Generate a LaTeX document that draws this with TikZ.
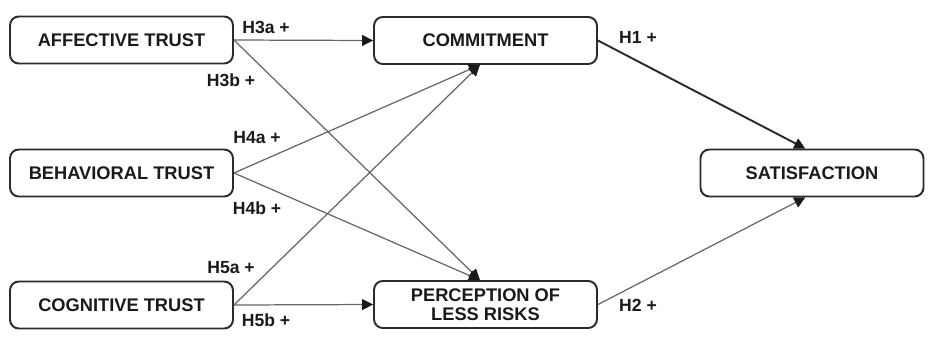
\documentclass[tikz,border=0pt]{standalone}
\usepackage{fontspec}
\setmainfont{Liberation Sans}
\usepackage{xcolor}
\definecolor{cLine}{HTML}{666666}
\definecolor{cBox}{HTML}{2B2B2B}
\definecolor{cText}{HTML}{1A1A1A}
\usetikzlibrary{positioning,arrows.meta,calc}
\tikzset{
  node-box/.style={draw=cBox,line width=1.1pt,rounded corners=5pt,
    minimum height=9.4mm,minimum width=44.6mm,align=center,
    font=\fontsize{10.4}{10.6}\selectfont\bfseries,text=cText,inner sep=1pt},
  arrow/.style={-{Triangle[length=2.2mm,width=2.2mm,color=cText]},line width=0.7pt,draw=cLine},
  arrow-main/.style={-{Triangle[length=2.2mm,width=2.2mm,color=cText]},line width=1.1pt,draw=cBox},
  hyp/.style={font=\fontsize{10}{10}\selectfont\bfseries,text=cText,inner sep=0pt},
}
\begin{document}
\begin{tikzpicture}[x=0.02cm,y=-0.02cm]
  \useasboundingbox (0,0) rectangle (929,336);
  % sources
  \node[node-box] (aff) at (121.5,40) {AFFECTIVE TRUST};
  \node[node-box] (beh) at (121.5,173) {BEHAVIORAL TRUST};
  \node[node-box] (cog) at (121.5,305) {COGNITIVE TRUST};
  % mediators
  \node[node-box] (com) at (485.5,40.5) {COMMITMENT};
  \node[node-box] (per) at (485.5,304.5) {PERCEPTION OF\\LESS RISKS};
  % outcome
  \node[node-box] (sat) at (812,173) {SATISFACTION};
  \coordinate (com-in) at ($(com.south west)!0.475!(com.south east)$);
  \coordinate (per-in) at ($(per.north west)!0.475!(per.north east)$);
  \coordinate (sat-top) at ($(sat.north west)!0.47!(sat.north east)$);
  \coordinate (sat-bot) at ($(sat.south west)!0.47!(sat.south east)$);
  \draw[arrow] (aff.east) -- (com.west);
  \draw[arrow] (aff.east) -- (per-in);
  \draw[arrow] (beh.east) -- (com-in);
  \draw[arrow] (beh.east) -- (per-in);
  \draw[arrow] (cog.east) -- (com-in);
  \draw[arrow] (cog.east) -- (per.west);
  \draw[arrow-main] (com.east) -- (sat-top);
  \draw[arrow] (per.east) -- (sat-bot);
  % hypothesis labels
  \node[hyp] (h3a) at (266,27) {H3a +};
  \node[hyp] (h3b) at (231,80) {H3b +};
  \node[hyp] (h4a) at (257,138) {H4a +};
  \node[hyp] (h4b) at (257,208) {H4b +};
  \node[hyp] (h5a) at (231,268) {H5a +};
  \node[hyp] (h5b) at (266,320) {H5b +};
  \node[hyp] (h1) at (638,37) {H1 +};
  \node[hyp] (h2) at (638,305) {H2 +};
\end{tikzpicture}
\end{document}
